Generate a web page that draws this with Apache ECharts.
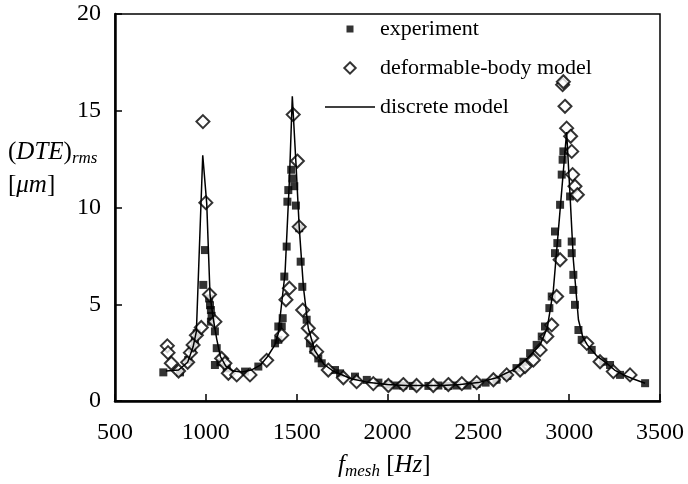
<!DOCTYPE html>
<html>
<head>
<meta charset="utf-8">
<script src="https://cdn.jsdelivr.net/npm/echarts@6/dist/echarts.min.js"></script>
<style>
  html, body { margin: 0; padding: 0; background: #fff; }
  #main { width: 688px; height: 484px; }
</style>
</head>
<body>
<div id="main"></div>
<script>
var chartDom = document.getElementById('main');
var myChart = echarts.init(chartDom);
var option;

let fTicks = [500, 1000, 1500, 2000, 2500, 3000, 3500];
let dteTicks = [0, 5, 10, 15, 20];

// [f_mesh Hz, (DTE)rms um]
let experiment = [
  [766,1.48],[858,1.48],[903,2.12],[925,2.7],[940,3.1],[950,3.5],[986,6.0],[995,7.8],
  [1018,5.3],[1023,4.95],[1028,4.7],[1032,4.4],[1028,4.1],[1050,3.6],[1060,2.73],[1050,1.86],
  [1080,2.0],[1115,1.69],[1216,1.52],[1289,1.78],
  [1381,2.98],[1399,3.16],[1399,3.85],[1418,3.85],[1423,4.28],[1432,6.43],[1445,7.98],[1449,10.3],
  [1454,10.9],[1470,11.95],[1476,11.5],[1487,11.1],[1496,10.1],[1514,8.93],[1522,7.2],[1531,5.9],
  [1555,4.2],[1573,2.98],[1592,2.64],[1619,2.2],[1638,1.95],[1711,1.6],[1739,1.43],[1821,1.26],[1886,1.09],
  [1950,0.95],[2005,0.85],[2050,0.8],[2087,0.8],[2140,0.78],[2225,0.78],[2280,0.8],[2335,0.78],
  [2380,0.8],[2440,0.8],[2491,0.88],[2540,0.95],[2600,1.1],[2660,1.3],[2710,1.7],
  [2748,2.03],[2785,2.47],[2821,2.9],[2849,3.33],[2867,3.85],[2891,4.8],[2904,5.4],[2922,7.64],
  [2935,8.16],[2922,8.76],[2950,10.14],[2959,11.7],[2964,12.47],[2968,12.9],[3005,10.57],[3014,8.24],
  [3014,7.64],[3023,6.52],[3023,5.74],[3032,4.97],[3051,3.67],[3069,3.16],[3124,2.64],[3188,2.03],
  [3225,1.86],[3280,1.35],[3418,0.92]
];

let deformableBody = [
  [788,2.85],[792,2.5],[810,1.95],[850,1.55],[900,2.0],[915,2.5],[930,2.9],[948,3.4],[975,3.8],
  [984,14.44],[1000,10.25],[1020,5.5],[1050,4.1],[1087,2.2],[1105,1.95],[1124,1.43],[1170,1.35],
  [1243,1.35],[1335,2.1],
  [1418,3.4],[1441,5.23],[1460,5.83],[1481,14.8],[1504,12.4],[1514,9.0],[1533,4.7],[1564,3.76],
  [1583,3.24],[1610,2.55],[1674,1.6],[1757,1.2],[1830,1.0],
  [1922,0.9],[2005,0.8],[2087,0.85],[2160,0.8],[2252,0.8],[2335,0.85],[2409,0.9],[2491,0.95],
  [2583,1.1],[2656,1.35],[2730,1.6],
  [2757,1.78],[2803,2.12],[2840,2.64],[2877,3.33],[2904,3.93],[2931,5.4],[2950,7.3],[2964,16.35],
  [2968,16.5],[2977,15.23],[2986,14.1],[3008,13.68],[3014,12.9],[3019,11.7],[3032,11.1],[3045,10.66],
  [3097,2.98],[3170,2.03],[3243,1.52],[3335,1.35]
];

let discreteModel = [
  [780,1.55],[850,1.6],[900,2.0],[930,2.8],[948,3.6],[983,12.7],[1005,10.2],[1023,5.5],[1040,4.3],
  [1060,3.2],[1080,2.3],[1110,1.8],[1150,1.55],[1200,1.5],[1250,1.6],[1300,1.85],[1340,2.3],
  [1380,2.9],[1399,3.5],[1436,6.6],[1460,11.4],[1476,15.75],[1496,12.3],[1514,9.0],[1537,5.9],
  [1564,3.76],[1600,2.6],[1650,1.9],[1700,1.55],[1800,1.15],[1900,0.95],[2000,0.85],[2100,0.8],
  [2200,0.8],[2300,0.8],[2400,0.85],[2500,0.95],[2600,1.2],[2700,1.65],[2780,2.3],[2840,2.9],
  [2880,3.8],[2913,5.74],[2953,10.2],[2986,13.9],[3005,10.6],[3023,7.3],[3051,4.2],[3075,3.3],
  [3100,2.9],[3150,2.35],[3200,2.0],[3250,1.6],[3300,1.35],[3350,1.15],[3418,0.92]
];

var serif = 'Liberation Serif';

option = {
  animation: false,
  backgroundColor: '#fff',
  grid: {
    left: 115, right: 28, top: 14, bottom: 83,
    show: true, borderColor: '#000', borderWidth: 1.5
  },
  legend: {
    orient: 'vertical',
    left: 320,
    top: 13,
    itemWidth: 50,
    itemHeight: 13,
    itemGap: 17,
    textStyle: { fontFamily: serif, fontSize: 22, color: '#000' },
    data: [
      { name: 'experiment', icon: 'path://M0,0M13,13M3,3L10,3L10,10L3,10Z' },
      { name: 'deformable-body model', icon: 'path://M0,0M13,13M6.5,0.8L12.2,6.5L6.5,12.2L0.8,6.5Z' },
      { name: 'discrete model', icon: 'path://M0,0L50,0L50,1.6L0,1.6Z' }
    ]
  },
  xAxis: {
    type: 'value',
    min: fTicks[0],
    max: fTicks[fTicks.length - 1],
    interval: 500,
    axisLine: { lineStyle: { color: '#000', width: 2.5 } },
    axisTick: { inside: true, length: 7, lineStyle: { color: '#000', width: 1.5 } },
    axisLabel: {
      color: '#000', fontFamily: serif, fontSize: 24, margin: 20,
      formatter: function (v) { return String(v); }
    },
    splitLine: { show: false }
  },
  yAxis: {
    type: 'value',
    min: dteTicks[0],
    max: dteTicks[dteTicks.length - 1],
    interval: 5,
    axisLine: { show: true, lineStyle: { color: '#000', width: 2.5 } },
    axisTick: { show: true, inside: true, length: 7, lineStyle: { color: '#000', width: 1.5 } },
    axisLabel: { color: '#000', fontFamily: serif, fontSize: 24, margin: 14 },
    splitLine: { show: false }
  },
  graphic: [
    {
      type: 'text', x: 8, y: 137,
      style: {
        text: '{n|(}{i|DTE}{n|)}{s|rms}',
        verticalAlign: 'top',
        rich: {
          n: { fontFamily: serif, fontSize: 25, lineHeight: 30, fill: '#000' },
          i: { fontFamily: serif, fontSize: 25, fontStyle: 'italic', lineHeight: 30, fill: '#000' },
          s: { fontFamily: serif, fontSize: 17, fontStyle: 'italic', lineHeight: 16, verticalAlign: 'bottom', fill: '#000' }
        }
      }
    },
    {
      type: 'text', x: 8, y: 170,
      style: {
        text: '{n|[}{i|μm}{n|]}',
        verticalAlign: 'top',
        rich: {
          n: { fontFamily: serif, fontSize: 25, lineHeight: 30, fill: '#000' },
          i: { fontFamily: serif, fontSize: 25, fontStyle: 'italic', lineHeight: 30, fill: '#000' }
        }
      }
    },
    {
      type: 'text', x: 338, y: 450,
      style: {
        text: '{i|f}{s|mesh}{n| [}{i|Hz}{n|]}',
        verticalAlign: 'top',
        rich: {
          n: { fontFamily: serif, fontSize: 25, lineHeight: 30, fill: '#000' },
          i: { fontFamily: serif, fontSize: 25, fontStyle: 'italic', lineHeight: 30, fill: '#000' },
          s: { fontFamily: serif, fontSize: 17, fontStyle: 'italic', lineHeight: 16, verticalAlign: 'bottom', fill: '#000' }
        }
      }
    }
  ],
  series: [
    {
      name: 'experiment',
      type: 'scatter',
      symbol: 'rect',
      symbolSize: 8,
      itemStyle: { color: '#000' },
      data: experiment,
      z: 2
    },
    {
      name: 'deformable-body model',
      type: 'scatter',
      symbol: 'diamond',
      symbolSize: 13,
      itemStyle: { color: '#fff', borderColor: '#000', borderWidth: 2 },
      data: deformableBody,
      z: 3
    },
    {
      name: 'discrete model',
      type: 'line',
      symbol: 'none',
      itemStyle: { color: '#000' },
      lineStyle: { color: '#000', width: 1.5 },
      data: discreteModel,
      z: 4
    }
  ]
};

option && myChart.setOption(option);
</script>
</body>
</html>
